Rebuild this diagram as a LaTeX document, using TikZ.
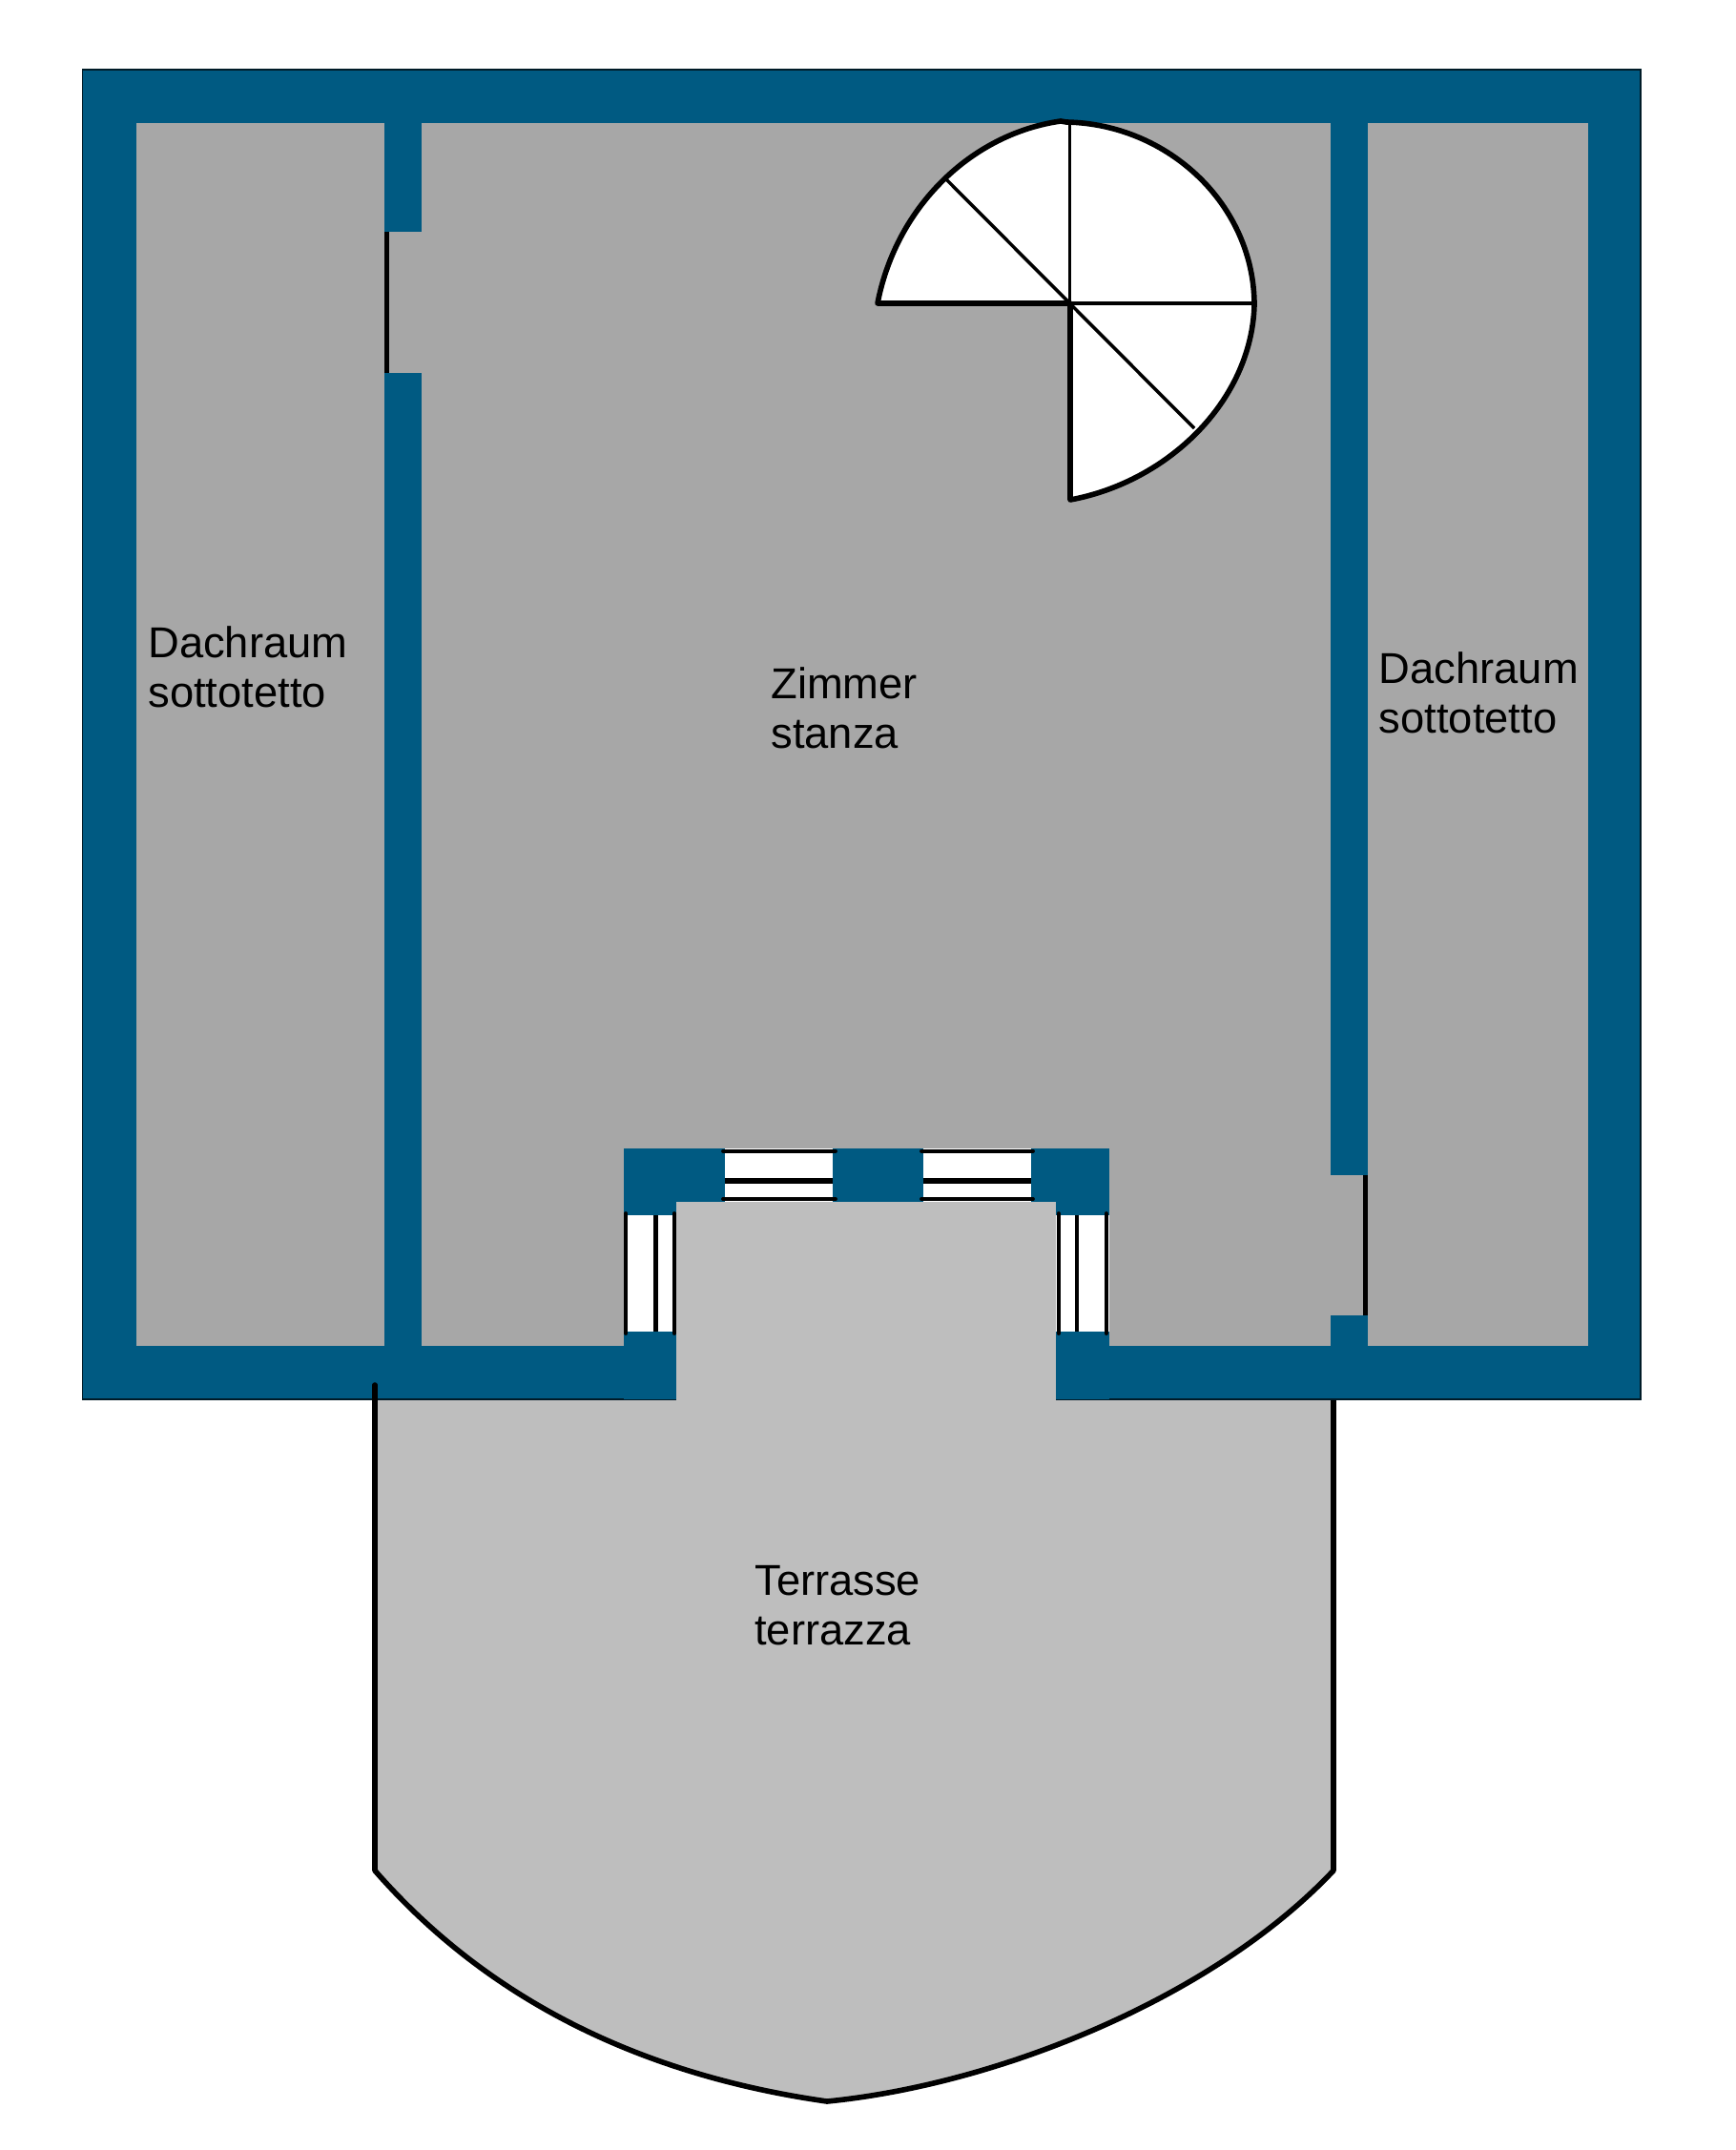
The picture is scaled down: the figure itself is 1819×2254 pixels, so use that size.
\documentclass[tikz,border=0pt]{standalone}
\usepackage{fontspec}
\setmainfont{Liberation Sans}
\definecolor{wallc}{RGB}{0,90,130}
\definecolor{roomc}{RGB}{167,167,167}
\definecolor{terrc}{RGB}{190,190,190}
\tikzset{
  wallfill/.style={fill=wallc,draw=none},
  roomfill/.style={fill=roomc,draw=none},
  terrfill/.style={fill=terrc,draw=none},
  blackline/.style={draw=black,line width=#1,line cap=round},
  blackline/.default=2.2pt,
  flatline/.style={draw=black,line width=#1,line cap=butt},
  label/.style={font=\fontsize{25.8pt}{29.6pt}\selectfont,align=left,anchor=north west,inner sep=0pt,text=black}
}
\begin{document}
\begin{tikzpicture}[x=0.02cm,y=-0.02cm]
\useasboundingbox (0,0) rectangle (1819,2254);
\fill[white] (0,0) rectangle (1819,2254);
% terrace
\path[terrfill] (393,1440) -- (393,1961) .. controls (510,2095) and (670,2175) .. (867,2203)
  .. controls (1050,2185) and (1275,2092) .. (1398,1961) -- (1398,1440) -- cycle;
\draw[line width=3.2pt,line join=round] (393,1452) -- (393,1961) .. controls (510,2095) and (670,2175) .. (867,2203)
  .. controls (1050,2185) and (1275,2092) .. (1398,1961) -- (1398,1467);
% walls
\path[wallfill,draw=black!70!wallc,line width=0.6pt] (86.5,73) rectangle (1720,1467);
\draw[line width=3.2pt,line cap=round] (393,1452) -- (393,1470);
% rooms
\path[roomfill] (143,129) rectangle (403,1411);
\path[roomfill] (442,129) rectangle (1395,1411);
\path[roomfill] (1434,129) rectangle (1665,1411);
% door openings
\path[roomfill] (403,243) rectangle (442,391);
\path[roomfill] (1395,1232) rectangle (1434,1379);
\draw[flatline=2.9pt] (405.5,243) -- (405.5,391);
\draw[flatline=2.9pt] (1431.5,1232) -- (1431.5,1379);
% bay
\path[wallfill] (654,1204) rectangle (1163,1274);
\path[wallfill] (654,1274) rectangle (709,1467);
\path[wallfill] (1107,1274) rectangle (1163,1467);
\path[terrfill] (709,1260) rectangle (1107,1468);
% windows top
\fill[white] (759.5,1204) rectangle (873.4,1260);
\fill[white] (967.8,1204) rectangle (1081.3,1260);
\draw[blackline=2.2pt] (758,1206.7) -- (876,1206.7);
\draw[blackline=2.2pt] (758,1257) -- (876,1257);
\draw[flatline=3.3pt] (759.5,1237.7) -- (873.4,1237.7);
\draw[blackline=2.2pt] (966,1206.7) -- (1083,1206.7);
\draw[blackline=2.2pt] (966,1257) -- (1083,1257);
\draw[flatline=3.3pt] (967.8,1237.7) -- (1081.3,1237.7);
% windows sides
\fill[white] (654,1274) rectangle (709,1396);
\fill[white] (1107,1274) rectangle (1163,1396);
\draw[blackline=2.2pt] (656,1272) -- (656,1398);
\draw[blackline=2.2pt] (707,1272) -- (707,1398);
\draw[flatline=2.5pt] (687.3,1274) -- (687.3,1396);
\draw[blackline=2.2pt] (1109.8,1272) -- (1109.8,1398);
\draw[blackline=2.2pt] (1159.8,1272) -- (1159.8,1398);
\draw[flatline=2.5pt] (1129,1274) -- (1129,1396);
% spiral stair
\path[fill=white] (920,318) .. controls (940,215) and (1020,140) .. (1112,127)
  -- (1118,128) .. controls (1225,130) and (1315,215) .. (1315,320)
  .. controls (1312,420) and (1225,505) .. (1122,524) -- (1122,318) -- cycle;
\draw[line width=2.0pt] (1121.7,128) -- (1121.7,318);
\draw[line width=2.0pt] (1121.7,318) -- (1315,318);
\draw[line width=2.0pt] (991,187) -- (1252,449);
\draw[line width=3.2pt,line join=round,line cap=round] (1122,318) -- (920,318) .. controls (940,215) and (1020,140) .. (1112,127)
  -- (1118,128) .. controls (1225,130) and (1315,215) .. (1315,320)
  .. controls (1312,420) and (1225,505) .. (1122,524) -- (1122,318);
% labels
\node[label] (dl) at (155,656) {Dachraum\\sottotetto};
\node[label] (dr) at (1445.5,683) {Dachraum\\sottotetto};
\node[label] (zs) at (808,699) {Zimmer\\stanza};
\node[label] (tt) at (791,1641) {Terrasse\\terrazza};
\end{tikzpicture}
\end{document}
